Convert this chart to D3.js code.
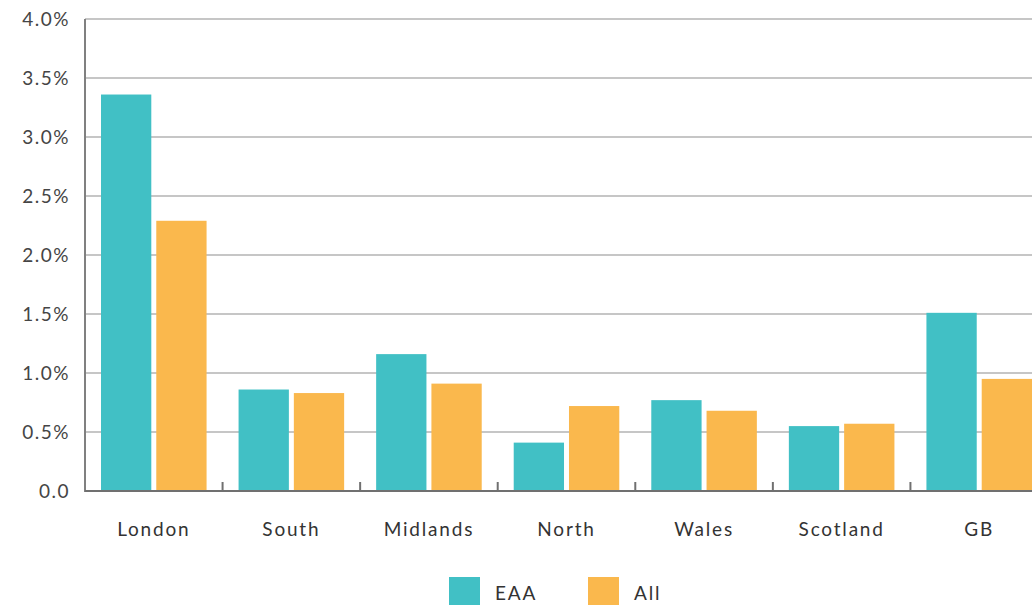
<!DOCTYPE html>
<html><head><meta charset="utf-8">
<script src="https://cdn.jsdelivr.net/npm/d3@7"></script>
<style>
html,body{margin:0;padding:0;background:#fff;overflow:hidden;}
svg{display:block;font-family:Lato,"Open Sans",sans-serif;}
</style></head>
<body>
<svg id="c" width="1032" height="605"></svg>
<script>
const categories = ["London","South","Midlands","North","Wales","Scotland","GB"];
const seriesNames = ["EAA","All"];
const eaaValues = [3.36,0.86,1.16,0.41,0.77,0.55,1.51];
const allValues = [2.29,0.83,0.91,0.72,0.68,0.57,0.95];
const yTicks = [0,0.5,1.0,1.5,2.0,2.5,3.0,3.5,4.0];
const yTickLabels = ["0.0","0.5%","1.0%","1.5%","2.0%","2.5%","3.0%","3.5%","4.0%"];
const colors = ["#41c0c5","#fab84d"];

(function(){
const svg = d3.select("#c");
const mLeft = 85, mRight = 1048, mTop = 19, mBottom = 491;
const x = d3.scaleBand().domain(categories).range([mLeft, mRight]).paddingInner(0).paddingOuter(0);
const y = d3.scaleLinear().domain([0,4]).range([mBottom, mTop]);
const inner = d3.scaleBand().domain(seriesNames).range([16, x.bandwidth()-16]).paddingInner(0.09);
const font = "Lato, 'Open Sans', sans-serif";

// gridlines
svg.append("g").selectAll("line").data(yTicks.filter(d=>d>0)).join("line")
  .attr("x1", mLeft).attr("x2", 1032)
  .attr("y1", d=>y(d)).attr("y2", d=>y(d))
  .attr("stroke", "#b3b3b3").attr("stroke-width", 1.6);

// bars
const data = categories.map((c,i)=>({cat:c, vals:[eaaValues[i], allValues[i]]}));
const g = svg.append("g");
data.forEach(d=>{
  d.vals.forEach((v,j)=>{
    g.append("rect")
      .attr("x", x(d.cat)+inner(seriesNames[j]))
      .attr("y", y(v))
      .attr("width", inner.bandwidth())
      .attr("height", y(0)-y(v))
      .attr("fill", colors[j]);
  });
});

// y axis
const yAxis = d3.axisLeft(y).tickValues(yTicks).tickFormat((d,i)=>yTickLabels[i]).tickSize(0).tickPadding(15);
const ya = svg.append("g").attr("transform",`translate(${mLeft},0)`).call(yAxis);
ya.select(".domain").remove();
ya.selectAll("text").attr("font-size",19).attr("fill","#454545").attr("font-family",font)
  .style("letter-spacing","1.5px");
svg.append("line").attr("x1",mLeft).attr("x2",mLeft).attr("y1",mTop).attr("y2",mBottom+1)
  .attr("stroke","#808080").attr("stroke-width",2);

// x axis
svg.append("line").attr("x1",mLeft).attr("x2",1032).attr("y1",mBottom).attr("y2",mBottom)
  .attr("stroke","#707070").attr("stroke-width",2);
const xAxis = d3.axisBottom(x).tickSize(0).tickPadding(0);
const xa = svg.append("g").attr("transform",`translate(0,${mBottom})`).call(xAxis);
xa.select(".domain").remove();
xa.selectAll("text").attr("y",45).attr("dy",0).attr("font-size",19).attr("fill","#333")
  .attr("font-family",font).style("letter-spacing","1.8px");
svg.append("g").selectAll("line").data(categories.slice(1)).join("line")
  .attr("x1", d=>x(d)).attr("x2", d=>x(d))
  .attr("y1", mBottom-9).attr("y2", mBottom)
  .attr("stroke","#707070").attr("stroke-width",2);

// legend
const legX = [449, 588];
const leg = svg.append("g");
seriesNames.forEach((s,i)=>{
  leg.append("rect").attr("x",legX[i]).attr("y",577).attr("width",31).attr("height",30).attr("fill",colors[i]);
  leg.append("text").attr("x",legX[i]+46).attr("y",600).attr("font-size",19).attr("fill","#333")
    .attr("font-family",font).style("letter-spacing","1.8px").text(s);
});
})();
</script>
</body></html>
